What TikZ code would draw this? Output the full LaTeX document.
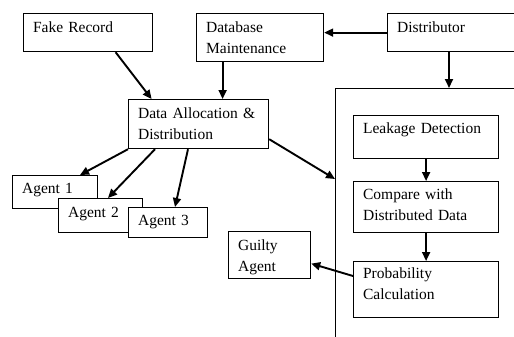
\documentclass[tikz,border=0pt]{standalone}
\usepackage{fontspec}
\setmainfont{Liberation Serif}
\usetikzlibrary{arrows.meta, positioning}
\tikzset{
    box/.style={rectangle, draw=black, line width=1.2bp, fill=white, anchor=north west, align=left, inner xsep=9.5bp, inner ysep=0pt, font=\fontsize{15.5bp}{20.5bp}\selectfont},
    frame/.style={rectangle, draw=black, line width=1.2bp, anchor=north west, inner sep=0pt},
    arrow/.style={line width=1.9bp, -{Triangle[length=9bp, width=8bp]}}
}
\begin{document}
\begin{tikzpicture}[x=1bp, y=-1bp]
    \fill[white] (0,0) rectangle (514,336);
    \useasboundingbox (0,0) rectangle (514,336);
    % Nodes
    \node (fake) [box, text width=110bp, text height=19bp, text depth=19bp] at (23,13) {Fake Record};
    \node (dbm) [box, text width=108bp, text height=19bp, text depth=29bp] at (196,13) {Database\\Maintenance};
    \node (dist) [box, text width=134bp, text height=19bp, text depth=19bp] at (387,13) {Distributor};
    \node (alloc) [box, text width=121bp, text height=19bp, text depth=30bp] at (128,99) {Data Allocation \&\\Distribution};
    \node (cont) [frame, minimum width=205bp, minimum height=262bp] at (335,88) {};
    \node (leak) [box, text width=126bp, text height=18bp, text depth=25bp] at (353,115) {Leakage Detection};
    \node (comp) [box, text width=126bp, text height=18bp, text depth=33bp] at (353,181) {Compare with\\Distributed Data};
    \node (prob) [box, text width=126bp, text height=17bp, text depth=39bp] at (353,261) {Probability\\Calculation};
    \node (guilty) [box, text width=63bp, text height=19bp, text depth=28bp] at (228,231) {Guilty\\Agent};
    \node (ag1) [box, text width=66bp, text height=18bp, text depth=15bp] at (12,175) {Agent 1};
    \node (ag2) [box, text width=65bp, text height=19bp, text depth=15bp] at (58,198) {Agent 2};
    \node (ag3) [box, text width=60bp, text height=18bp, text depth=12bp] at (128,207) {Agent 3};
    % Arrows
    \draw [arrow] ([xshift=27.5bp]fake.south) -- ([xshift=-47bp]alloc.north);
    \draw [arrow] ([xshift=-37.5bp]dbm.south) -- ([xshift=-37.5bp]dbm.south |- alloc.north);
    \draw [arrow] (dist.west) -- (dist.west -| dbm.east);
    \draw [arrow] ([xshift=62bp]dist.south west) -- ([xshift=62bp]dist.south west |- cont.north);
    \draw [arrow] (alloc.south west) -- ([xshift=68bp]ag1.north west);
    \draw [arrow] ([xshift=27bp]alloc.south west) -- ([xshift=50bp]ag2.north west);
    \draw [arrow] ([xshift=60bp]alloc.south west) -- ([xshift=47bp]ag3.north west);
    \draw [arrow] ([yshift=10bp]alloc.south east) -- ([yshift=-91bp]cont.north west);
    \draw [arrow] (leak) -- (comp);
    \draw [arrow] (comp) -- (prob);
    \draw [arrow] ([yshift=-15bp]prob.north west) -- ([yshift=-8.5bp]guilty.east);
\end{tikzpicture}
\end{document}
